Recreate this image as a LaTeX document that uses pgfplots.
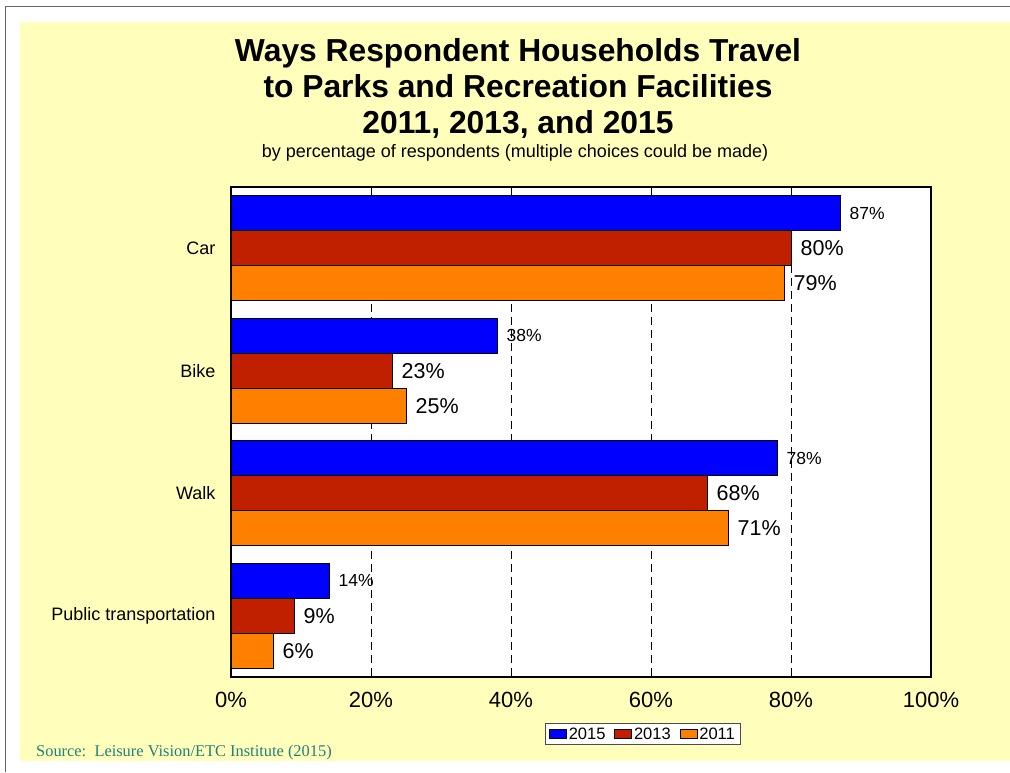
\documentclass[border=0pt]{standalone}
\usepackage{pgfplots}
\pgfplotsset{compat=1.18}
\usepackage{fontspec}
\setmainfont{Liberation Sans}
\newfontfamily\srcfont{Liberation Serif}
\definecolor{bgyellow}{RGB}{255,255,187}
\definecolor{c2015}{RGB}{0,0,255}
\definecolor{c2013}{RGB}{192,32,0}
\definecolor{c2011}{RGB}{255,128,0}
\definecolor{srcteal}{RGB}{32,128,128}
\begin{document}
\begin{tikzpicture}
\useasboundingbox (0pt,0pt) rectangle (1010pt,772pt);
\fill[white] (0pt,0pt) rectangle (1010pt,772pt);
\fill[bgyellow] (20pt,11pt) rectangle (1010pt,750pt);
\draw[black!60, line width=1pt] (5pt,0pt) -- (5pt,765pt) -- (1010pt,765pt);
\node[font=\fontsize{31.8}{36}\selectfont\bfseries, align=center] at (518pt,684pt)
  {Ways Respondent Households Travel\\to Parks and Recreation Facilities\\2011, 2013, and 2015};
\node[font=\fontsize{18}{21}\selectfont] at (515pt,619pt)
  {by percentage of respondents (multiple choices could be made)};
\node[font=\fontsize{16.4}{19}\selectfont\srcfont, text=srcteal, anchor=west, inner sep=0pt] at (36pt,19pt)
  {Source:\ \ Leisure Vision/ETC Institute (2015)};
\begin{axis}[
  at={(231pt,95pt)}, anchor=south west,
  scale only axis, width=700pt, height=490pt,
  xbar,
  xmin=0, xmax=100, ymin=-0.5, ymax=3.5, y dir=reverse,
  bar width=0.2857,
  xtick={0,20,40,60,80,100},
  xticklabel={\pgfmathprintnumber{\tick}\%},
  /pgf/number format/assume math mode=true,
  ytick={0,1,2,3},
  yticklabels={Car,Bike,Walk,Public transportation},
  xticklabel style={font=\fontsize{22}{25}\selectfont},
  yticklabel style={font=\fontsize{18}{21}\selectfont},
  xticklabel shift=12pt,
  yticklabel shift=12pt,
  xmajorgrids,
  major grid style={black, dash pattern=on 8pt off 5pt, line width=0.8pt},
  major tick length=0pt,
  axis line style={line width=2pt},
  axis background/.style={fill=white},
  nodes near coords={\pgfmathprintnumber{\pgfplotspointmeta}\%},
  point meta=x,
  nodes near coords style={anchor=west, xshift=6pt, text=black},
  legend style={at={(0.5886,-0.1163)}, anchor=center, legend columns=3,
    draw=black!70, line width=1pt, fill=white,
    font=\fontsize{16.5}{19}\selectfont,
    inner xsep=4pt, inner ysep=2pt,
    /tikz/every even column/.append style={column sep=7pt}},
  legend image code/.code={\draw[#1,draw=black,line width=0.6pt] (0pt,-4.5pt) rectangle (17pt,4.5pt);},
]
\addplot[fill=c2015, draw=black, line width=0.6pt, bar shift=-0.2857,
  every node near coord/.append style={font=\fontsize{17.5}{20}\selectfont}]
  coordinates {(87,0) (38,1) (78,2) (14,3)};
\addplot[fill=c2013, draw=black, line width=0.6pt, bar shift=0,
  every node near coord/.append style={font=\fontsize{21.5}{24}\selectfont}]
  coordinates {(80,0) (23,1) (68,2) (9,3)};
\addplot[fill=c2011, draw=black, line width=0.6pt, bar shift=0.2857,
  every node near coord/.append style={font=\fontsize{21.5}{24}\selectfont}]
  coordinates {(79,0) (25,1) (71,2) (6,3)};
\legend{2015,2013,2011}
\end{axis}
\end{tikzpicture}
\end{document}
